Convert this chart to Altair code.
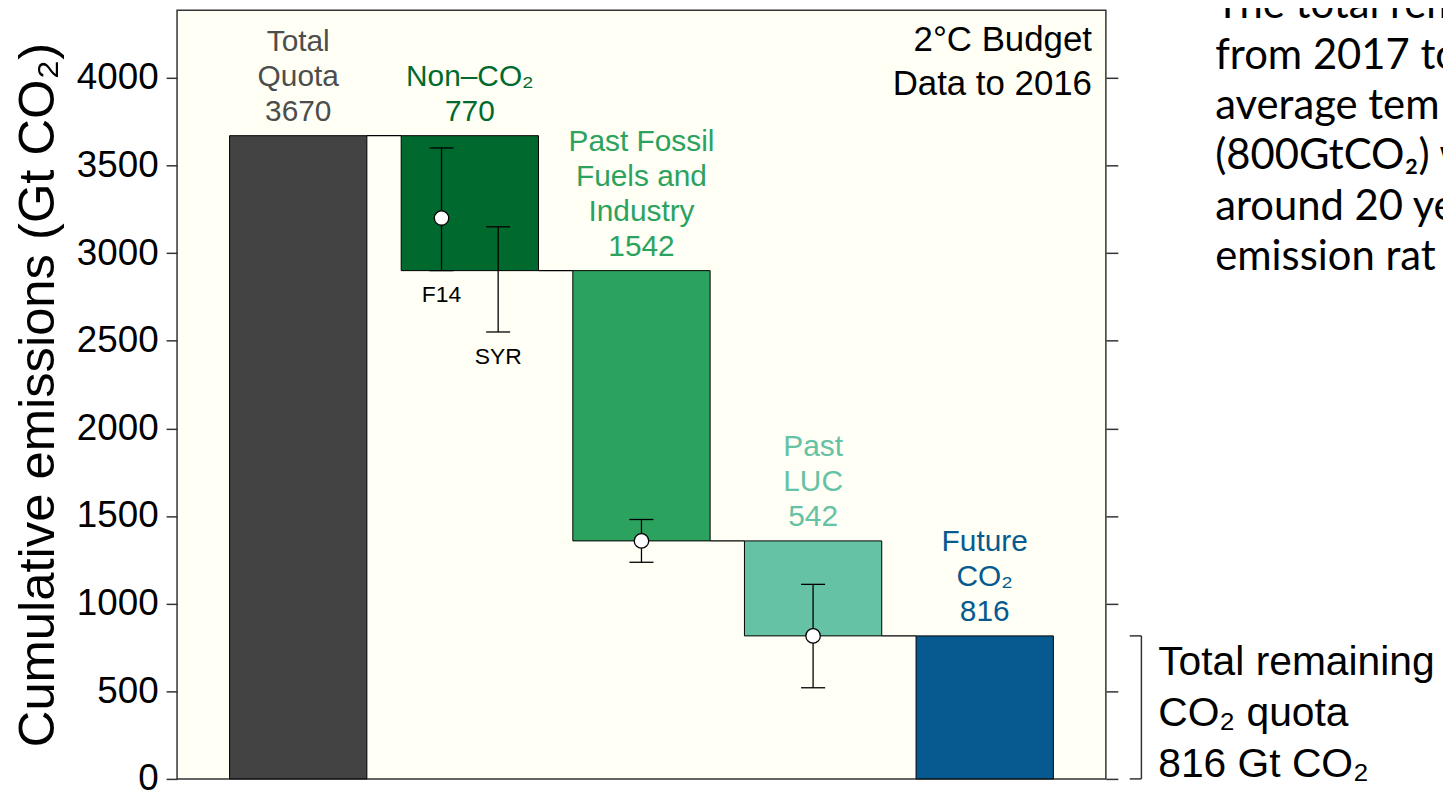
import altair as alt
import pandas as pd

# ---------------- data ----------------
label_lines = ["Total\nQuota", "Non–CO₂", "Past Fossil\nFuels and\nIndustry", "Past\nLUC", "Future\nCO₂"]
values = [3670, 770, 1542, 542, 816]
bar_colors = ["#434343", "#006a2e", "#2ca25f", "#66c2a4", "#065a8f"]
label_colors = ["#4d4d4d", "#006a2e", "#2ca25f", "#66c2a4", "#065a8f"]

err_names = ["F14", "SYR", "", ""]
err_category = [1, 1, 2, 3]
err_central = [3200, None, 1358, 816]
err_low = [2900, 2550, 1236, 520]
err_high = [3600, 3150, 1480, 1110]

y_ticks = [0, 500, 1000, 1500, 2000, 2500, 3000, 3500, 4000]
y_title = "Cumulative emissions (Gt CO₂)"
budget_text = "2°C Budget\nData to 2016"
remaining_text = "Total remaining\nCO₂ quota\n816 Gt CO₂"
slide_text = "The total rem\nfrom 2017 to\naverage tem\n(800GtCO₂) w\naround 20 ye\nemission rat"

# ---------------- layout constants ----------------
X_MIN, X_MAX = 0.294, 5.706
Y_MAX = 4386
PLOT_W, PLOT_H = 934, 773
PXU = PLOT_H / Y_MAX          # pixels per data unit (y)
BAR_HALF = 0.4
CAP_HALF = 0.07
ERR_SHIFT = [-0.165, 0.165, 0.0, 0.0]
LABEL_GAP, LABEL_LH = 15, 35

xscale = alt.Scale(domain=[X_MIN, X_MAX], nice=False, zero=False)
yscale = alt.Scale(domain=[0, Y_MAX], nice=False, zero=False)

# ---------------- waterfall table ----------------
tops, bottoms = [values[0]], [0]
level = values[0]
for v in values[1:-1]:
    tops.append(level)
    bottoms.append(level - v)
    level -= v
tops.append(values[-1])
bottoms.append(0)

bars = pd.DataFrame({
    "pos": [i + 1 for i in range(len(values))],
    "top": tops,
    "bottom": bottoms,
    "color": bar_colors,
})
bars["x0"] = bars["pos"] - BAR_HALF
bars["x1"] = bars["pos"] + BAR_HALF

rows = []
for i, (lab, v, top, col) in enumerate(zip(label_lines, values, tops, label_colors)):
    lines = lab.split("\n") + [str(v)]
    n = len(lines)
    for j, line in enumerate(lines):
        rows.append({"pos": i + 1, "top": top, "k": n - 1 - j, "text": line, "color": col})
cat_lines = pd.DataFrame(rows)

conn = pd.DataFrame({
    "x0": [p + BAR_HALF for p in bars["pos"][:-1]],
    "x1": [p - BAR_HALF for p in bars["pos"][1:]],
    "level": tops[1:],
})

err = pd.DataFrame({
    "name": err_names,
    "pos": [c + 1 + s for c, s in zip(err_category, ERR_SHIFT)],
    "central": err_central,
    "low": err_low,
    "high": err_high,
})
caps = pd.concat([err.assign(y=err["low"]), err.assign(y=err["high"])])
caps["x0"] = caps["pos"] - CAP_HALF
caps["x1"] = caps["pos"] + CAP_HALF
pts = err.dropna(subset=["central"])
names = err[err["name"] != ""]

left_axis = alt.Axis(
    values=y_ticks, orient="left", title=y_title, titleFontSize=51,
    titleFontWeight="normal", titleColor="black", titlePadding=12,
    labelFontSize=37, labelColor="black", labelPadding=8, tickSize=11,
    tickColor="#333333", tickWidth=1.5, domain=False, grid=False, format="d",
)
right_axis = alt.Axis(
    values=y_ticks, orient="right", labels=False, title=None, tickSize=12,
    tickColor="#333333", tickWidth=1.5, domain=False, grid=False,
)

bar_layer = alt.Chart(bars).mark_rect(stroke="black", strokeWidth=1).encode(
    x=alt.X("x0:Q", scale=xscale, axis=None), x2="x1:Q",
    y=alt.Y("top:Q", scale=yscale, axis=left_axis), y2="bottom:Q",
    color=alt.Color("color:N", scale=None),
)
right_layer = alt.Chart(bars).mark_point(opacity=0).encode(
    x=alt.X("pos:Q", scale=xscale, axis=None),
    y=alt.Y("top:Q", scale=yscale, axis=right_axis),
)
conn_layer = alt.Chart(conn).mark_rule(color="black", strokeWidth=1.2).encode(
    x=alt.X("x0:Q", scale=xscale, axis=None), x2="x1:Q",
    y=alt.Y("level:Q", scale=yscale, axis=None),
)
whisk = alt.Chart(err).mark_rule(color="black", strokeWidth=1.3).encode(
    x=alt.X("pos:Q", scale=xscale, axis=None),
    y=alt.Y("low:Q", scale=yscale, axis=None), y2="high:Q",
)
cap_layer = alt.Chart(caps).mark_rule(color="black", strokeWidth=1.3).encode(
    x=alt.X("x0:Q", scale=xscale, axis=None), x2="x1:Q",
    y=alt.Y("y:Q", scale=yscale, axis=None),
)
pt_layer = alt.Chart(pts).mark_circle(color="white", opacity=1, stroke="black", strokeWidth=1.3, size=210).encode(
    x=alt.X("pos:Q", scale=xscale, axis=None),
    y=alt.Y("central:Q", scale=yscale, axis=None),
)
name_layer = alt.Chart(names).mark_text(fontSize=23, baseline="middle", dy=25, color="black").encode(
    x=alt.X("pos:Q", scale=xscale, axis=None),
    y=alt.Y("low:Q", scale=yscale, axis=None),
    text="name:N",
)
cat_text = alt.Chart(cat_lines).transform_calculate(
    ty=f"datum.top + ({LABEL_GAP} + datum.k * {LABEL_LH}) / {PXU}"
).mark_text(fontSize=30, baseline="alphabetic").encode(
    x=alt.X("pos:Q", scale=xscale, axis=None),
    y=alt.Y("ty:Q", scale=yscale, axis=None),
    text="text:N",
    color=alt.Color("color:N", scale=None),
)

ann = pd.DataFrame({"x": [X_MAX], "y": [4153], "text": [budget_text]})
budget_layer = alt.Chart(ann).mark_text(fontSize=35, lineHeight=44, align="right", baseline="alphabetic", dx=-14, lineBreak="\n", color="black").encode(
    x=alt.X("x:Q", scale=xscale, axis=None),
    y=alt.Y("y:Q", scale=yscale, axis=None),
    text="text:N",
)

bracket = pd.DataFrame({
    "xa": [X_MAX + 0.139, X_MAX + 0.139, X_MAX + 0.207],
    "xb": [X_MAX + 0.207, X_MAX + 0.207, X_MAX + 0.207],
    "ya": [0, values[-1], 0],
    "yb": [0, values[-1], values[-1]],
})
bracket_layer = alt.Chart(bracket).mark_rule(color="#333333", strokeWidth=1.5).encode(
    x=alt.X("xa:Q", scale=xscale, axis=None), x2="xb:Q",
    y=alt.Y("ya:Q", scale=yscale, axis=None), y2="yb:Q",
)
rem = pd.DataFrame({"x": [X_MAX + 0.305], "y": [590], "text": [remaining_text]})
rem_layer = alt.Chart(rem).mark_text(fontSize=41, lineHeight=51, align="left", baseline="alphabetic", lineBreak="\n", color="black").encode(
    x=alt.X("x:Q", scale=xscale, axis=None),
    y=alt.Y("y:Q", scale=yscale, axis=None),
    text="text:N",
)
slide = pd.DataFrame({"x": [X_MAX + 0.637], "y": [4340], "text": [slide_text]})
slide_layer = alt.Chart(slide).mark_text(font="Lato", fontSize=42, lineHeight=50.6, align="left", baseline="alphabetic", lineBreak="\n", color="black").encode(
    x=alt.X("x:Q", scale=xscale, axis=None),
    y=alt.Y("y:Q", scale=yscale, axis=None),
    text="text:N",
)

chart = alt.layer(
    bar_layer, right_layer, conn_layer, whisk, cap_layer, pt_layer, name_layer,
    cat_text, budget_layer, bracket_layer, rem_layer, slide_layer,
).resolve_axis(y="independent").properties(
    width=PLOT_W, height=PLOT_H,
    padding={"left": 170, "top": 0, "right": 339, "bottom": 16},
    autosize=alt.AutoSizeParams(type="none"),
    background="white",
).configure(font="Liberation Sans").configure_view(
    fill="#fffff6", stroke="#333333", strokeWidth=1.5,
)

chart.save("out.html", embed_options={"renderer": "svg", "actions": False})
